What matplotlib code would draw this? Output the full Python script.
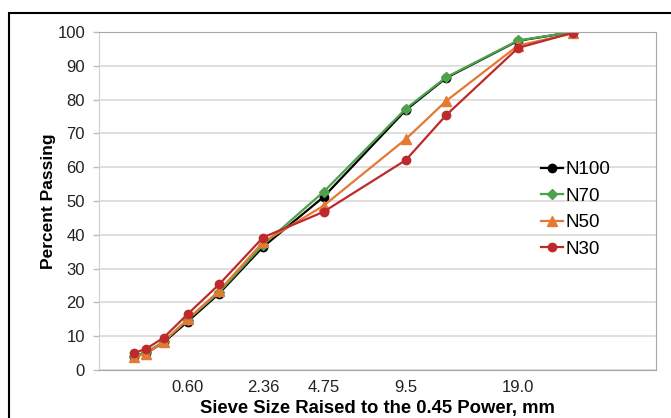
import matplotlib.pyplot as plt
import numpy as np
from matplotlib.patches import Rectangle

plt.rcParams['font.family'] = ['Liberation Sans', 'DejaVu Sans']

# sieve sizes, mm
sieves = np.array([0.075, 0.15, 0.3, 0.6, 1.18, 2.36, 4.75, 9.5, 12.5, 19.0, 25.0])
tick_sieves = [0.6, 2.36, 4.75, 9.5, 19.0]
tick_labels = ['0.60', '2.36', '4.75', '9.5', '19.0']

n100 = [3.9, 5.0, 8.2, 14.3, 22.6, 36.4, 51.2, 76.9, 86.4, 97.4, 100]
n70 = [4.1, 5.2, 8.5, 14.8, 23.0, 37.0, 52.7, 77.3, 86.6, 97.5, 100]
n50 = [3.8, 4.8, 8.4, 15.0, 23.4, 37.8, 48.6, 68.3, 79.6, 96.0, 99.6]
n30 = [5.0, 6.3, 9.6, 16.5, 25.3, 39.2, 46.8, 62.1, 75.4, 95.3, 99.8]

x = sieves ** 0.45

f = plt.figure(figsize=(6.71, 4.18), dpi=100)
ax = f.add_axes([99/671, 1 - 370/418, 557/671, 338/418])

ax.plot(x, n100, color='black', marker='o', markersize=6, lw=1.6, label='N100')
ax.plot(x, n70, color='#4ea24e', marker='D', markersize=5, lw=1.6, label='N70')
ax.plot(x, n50, color='#e37933', marker='^', markersize=7, lw=1.6, label='N50')
ax.plot(x, n30, color='#be2a2c', marker='o', markersize=6, lw=1.6, label='N30')

ax.set_xlim(0, 5)
ax.set_ylim(0, 100)
ax.set_yticks(range(0, 101, 10))
ax.set_xticks(np.array(tick_sieves) ** 0.45)
ax.set_xticklabels(tick_labels)
ax.tick_params(axis='x', length=0, pad=7, labelsize=12, colors='#222222')
ax.tick_params(axis='y', length=4, width=1, color='#bbbbbb', pad=6, labelsize=12, colors='#222222')
ax.grid(axis='y', color='#d9d9d9', lw=1.2)
ax.set_axisbelow(True)
for s in ['top', 'right', 'bottom']:
    ax.spines[s].set_color('#a6a6a6')
ax.spines['left'].set_color('#d0d0d0')

ax.set_ylabel('Percent Passing', fontsize=12.5, fontweight='bold', labelpad=1)
ax.set_xlabel('Sieve Size Raised to the 0.45 Power, mm', fontsize=13.3, fontweight='bold', labelpad=3.5)

leg = ax.legend(loc='upper left', bbox_to_anchor=(0.78, 0.64), frameon=False, fontsize=13.5,
                handlelength=1.2, handletextpad=0.1, labelspacing=0.5, borderaxespad=0)

# outer chart border
f.patches.append(Rectangle((9/671, -0.1), 1.1, 1 - 13/418 + 0.1, transform=f.transFigure,
                           fill=False, edgecolor='black', lw=1.5))

f.savefig('out.png', dpi=100)
